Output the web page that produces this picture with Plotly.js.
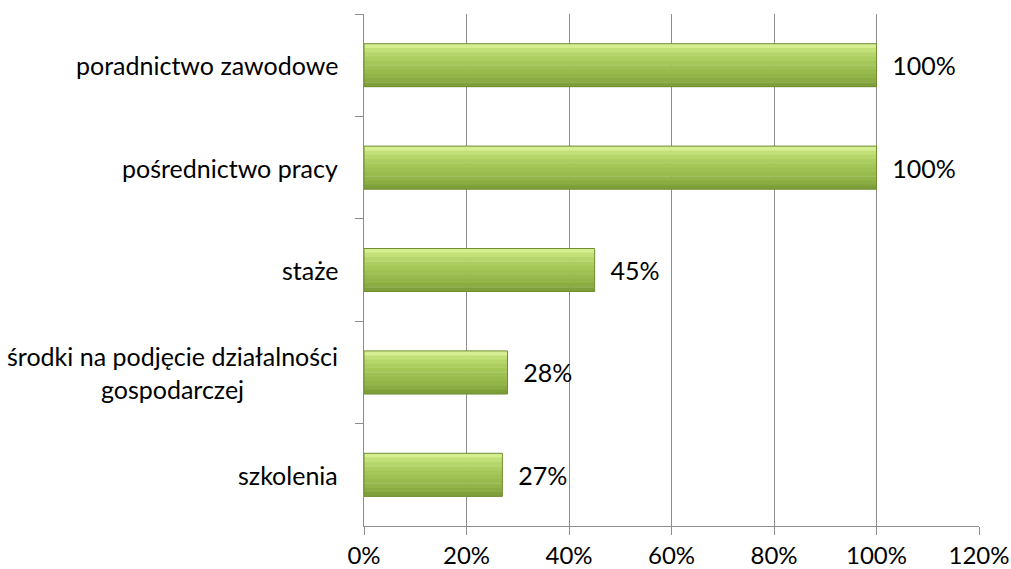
<!DOCTYPE html>
<html><head><meta charset="utf-8">
<script src="https://cdn.plot.ly/plotly-3.0.1.min.js"></script>
<style>body{margin:0;background:#fff}#chart{width:1011px;height:569px}</style>
</head><body><div id="chart"></div>
<script>
const categories = ["poradnictwo zawodowe", "pośrednictwo pracy", "staże", "środki na podjęcie działalności<br>gospodarczej", "szkolenia"];
const values = [1.00, 1.00, 0.45, 0.28, 0.27];
const xTicks = [0, 0.2, 0.4, 0.6, 0.8, 1.0, 1.2];
const xTickText = ["0%", "20%", "40%", "60%", "80%", "100%", "120%"];

const font = "Lato, 'Open Sans', sans-serif";
const fs = 25;
const barW = 0.42;
const bandColors = ["#d4ee90", "#c2e078", "#b6d56a", "#acce60", "#a5c758", "#9fc153", "#99bb4e", "#92b449", "#8aac43", "#7f9f3b"];
const traces = [];
const bandW = barW / bandColors.length;
bandColors.forEach((col, i) => {
  traces.push({type: "bar", orientation: "h", x: values, y: categories,
    width: bandW + 0.004, offset: -barW/2 + i*bandW,
    marker: {color: col, line: {width: 0}}, hoverinfo: "skip"});
});
traces.push({type: "bar", orientation: "h", x: values, y: categories, width: barW,
   marker: {color: "rgba(0,0,0,0)", line: {color: "#708d32", width: 1}},
   text: values.map(v => "  " + Math.round(v*100) + "%"), textposition: "outside",
   textfont: {family: font, size: fs, color: "#000"}, cliponaxis: false, hoverinfo: "skip"});

const annotations = categories.map(c => ({
  xref: "paper", yref: "y", x: 0, y: c, xanchor: "right", yanchor: "middle",
  xshift: -24, text: c, showarrow: false, align: "center",
  font: {family: font, size: fs, color: "#000"}
}));
const layout = {
  width: 1011, height: 569,
  margin: {l: 364, r: 32, t: 14, b: 43},
  paper_bgcolor: "#fff", plot_bgcolor: "#fff",
  showlegend: false, barmode: "overlay",
  font: {family: font, size: fs, color: "#000"},
  xaxis: {range: [0, 1.2], tickvals: xTicks, ticktext: xTickText,
    showgrid: true, gridcolor: "#8c8c8c", gridwidth: 1,
    showline: true, linecolor: "#8c8c8c", linewidth: 1,
    ticks: "outside", ticklen: 8, tickcolor: "#8c8c8c", zeroline: false,
    tickfont: {family: font, size: 24, color: "#000"}, fixedrange: true},
  yaxis: {type: "category", autorange: "reversed", showticklabels: false,
    showline: true, linecolor: "#8c8c8c", linewidth: 1,
    ticks: "outside", ticklen: 8, tickcolor: "#8c8c8c", tickson: "boundaries",
    showgrid: false, fixedrange: true},
  annotations: annotations
};
Plotly.newPlot("chart", traces, layout, {displayModeBar: false, staticPlot: true});
</script></body></html>
